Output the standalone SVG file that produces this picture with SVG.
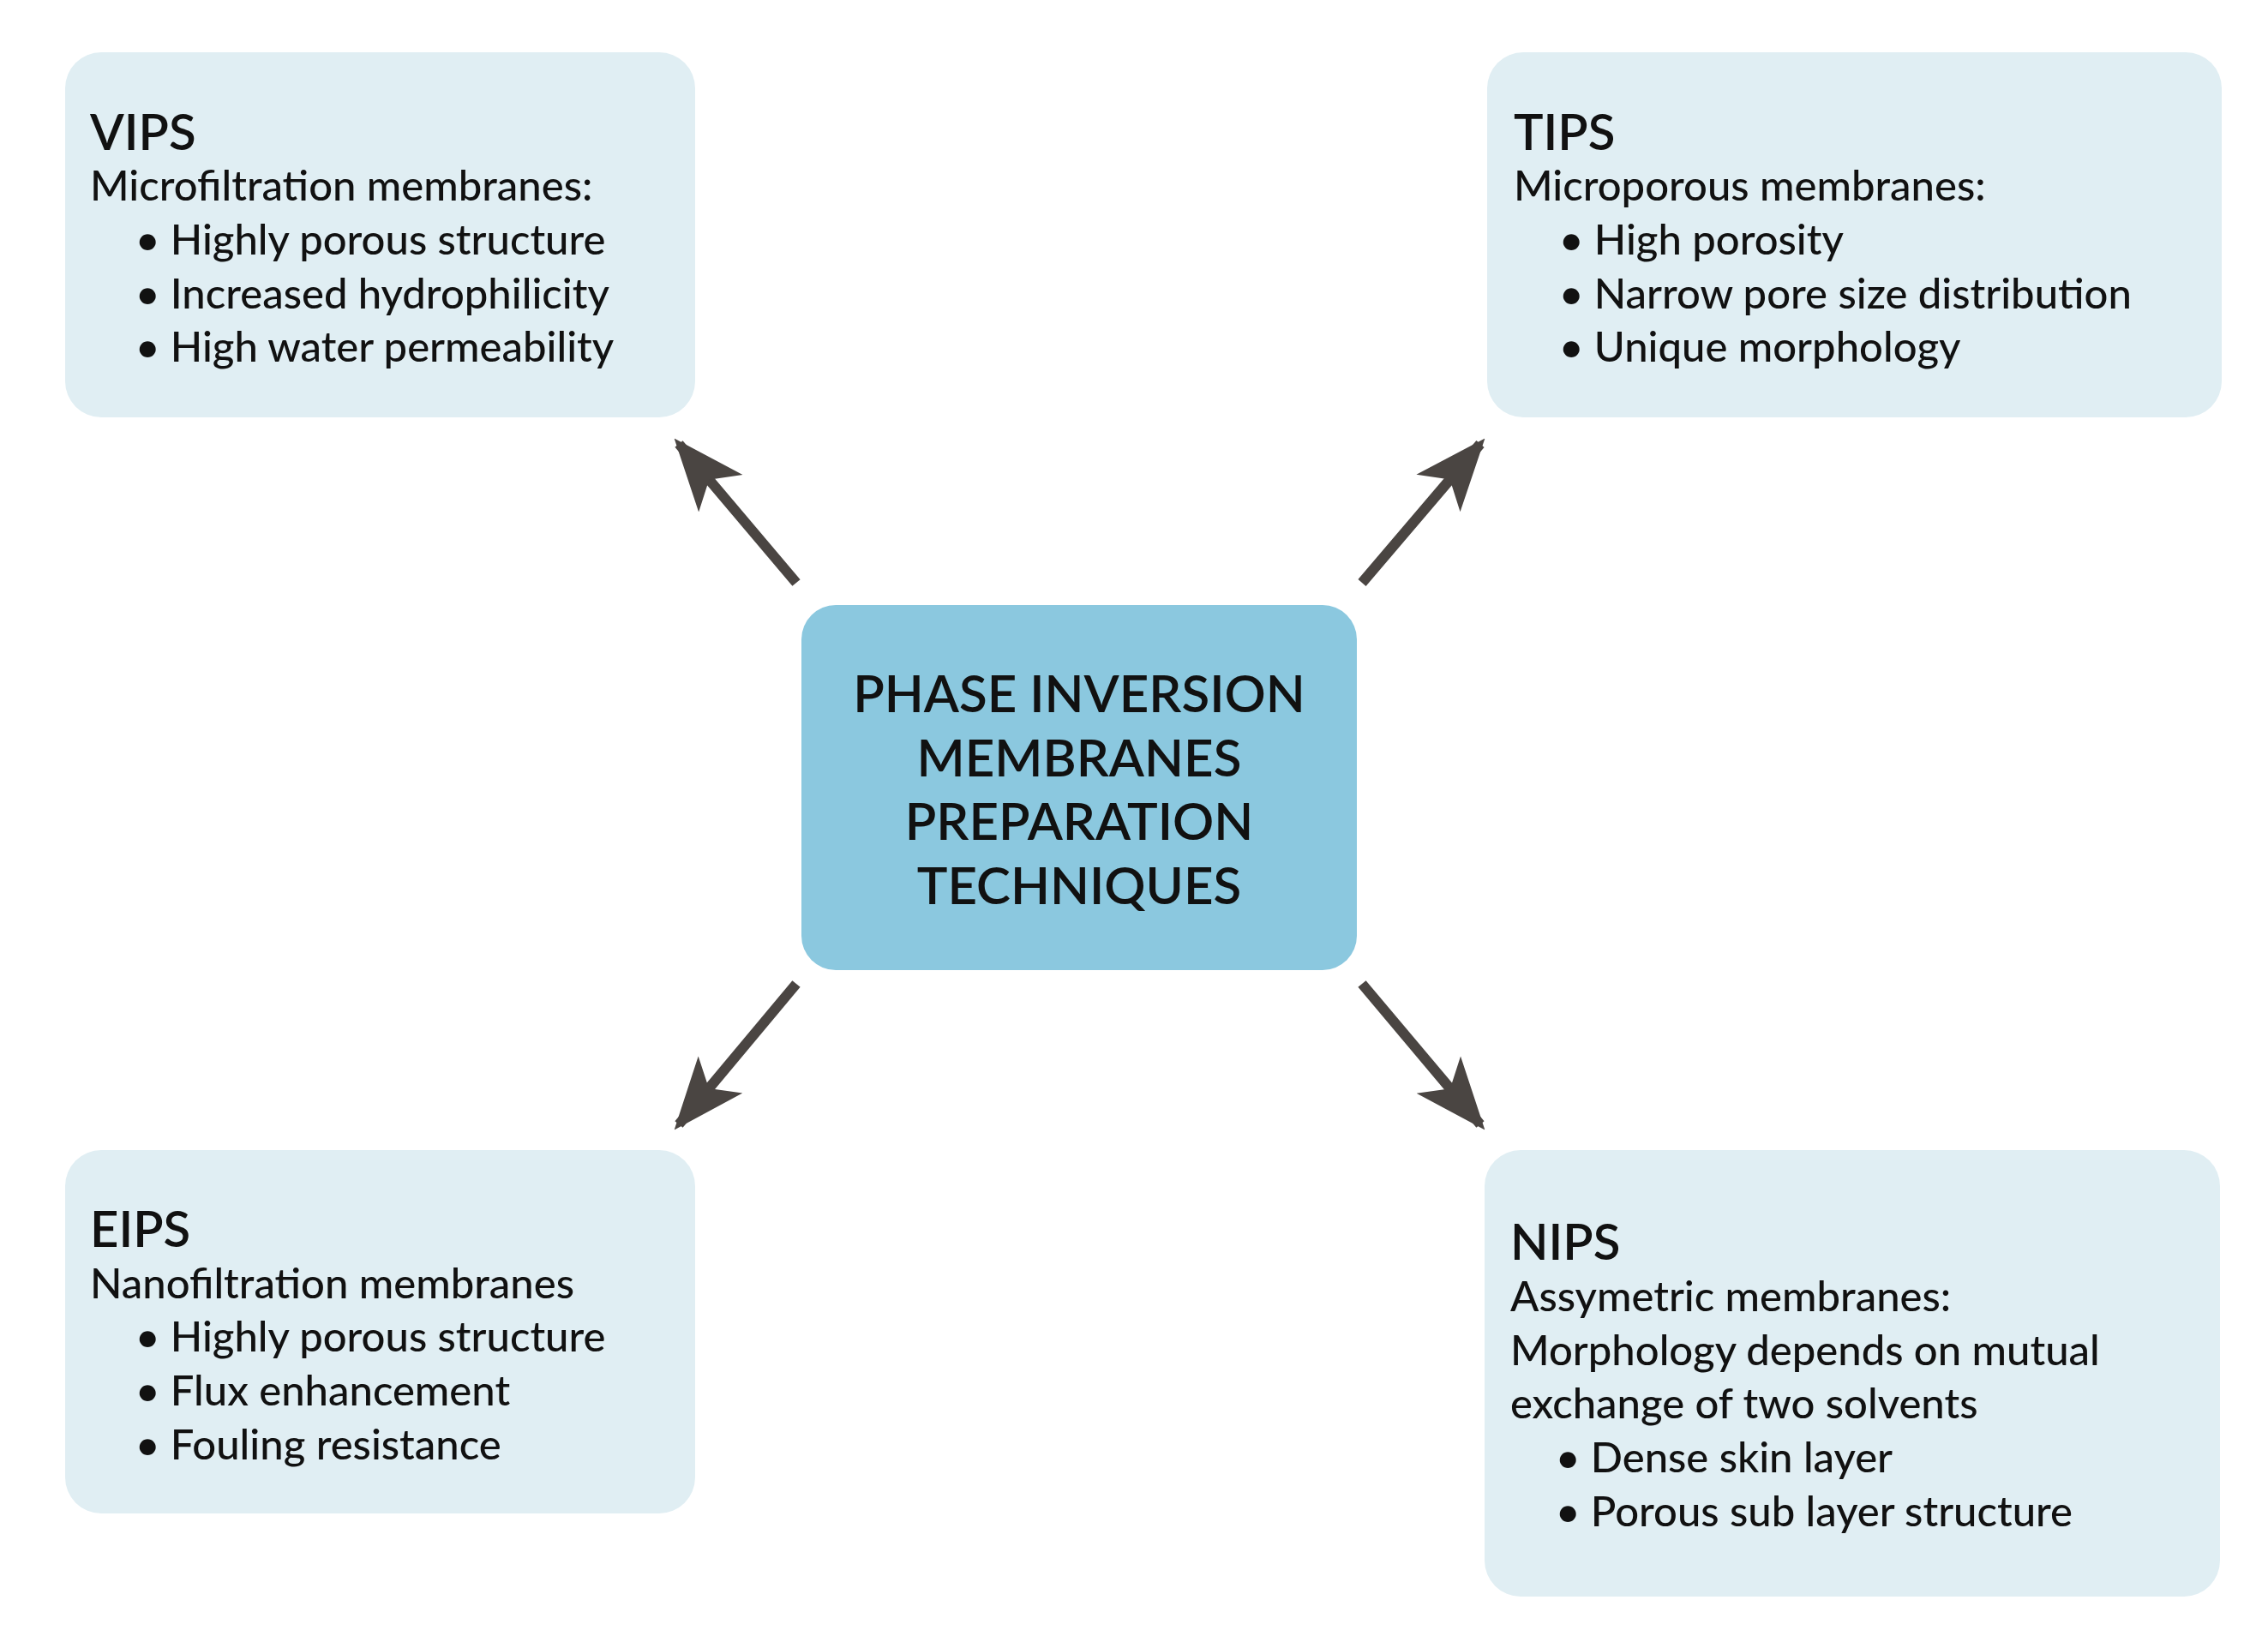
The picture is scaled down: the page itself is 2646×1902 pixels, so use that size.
<svg xmlns="http://www.w3.org/2000/svg" width="2646" height="1902" viewBox="0 0 2646 1902">
<style>
.box{fill:#e0eef3}
.ctr{fill:#8bc8df}
text{font-family:Lato,"Open Sans","Liberation Sans",sans-serif;fill:#111}
.t{font-size:58px;font-weight:600}
.b{font-size:49px;font-weight:500}
.c{font-size:60px;font-weight:600;text-anchor:middle}
.ar{stroke:#4a4542;stroke-width:12;fill:none}
</style>
<defs>
<marker id="ah" viewBox="0 0 20 20" refX="18" refY="10" markerWidth="7" markerHeight="7" markerUnits="strokeWidth" orient="auto">
<path d="M0,2 L20,10 L0,18 L5,10 Z" fill="#4a4542"/>
</marker>
</defs>
<rect width="2646" height="1902" fill="#fff"/>
<g id="connectors">
<line class="ar" x1="929" y1="680" x2="792" y2="518" marker-end="url(#ah)"/>
<line class="ar" x1="1589" y1="680" x2="1727" y2="518" marker-end="url(#ah)"/>
<line class="ar" x1="929" y1="1148" x2="792" y2="1312" marker-end="url(#ah)"/>
<line class="ar" x1="1589" y1="1148" x2="1727" y2="1312" marker-end="url(#ah)"/>
</g>
<g id="center">
<rect class="ctr" x="935" y="706" width="648" height="426" rx="40"/>
<text class="c" x="1259" y="831">PHASE INVERSION</text>
<text class="c" x="1259" y="906">MEMBRANES</text>
<text class="c" x="1259" y="980">PREPARATION</text>
<text class="c" x="1259" y="1055">TECHNIQUES</text>
</g>
<g id="vips">
<rect class="box" x="76" y="61" width="735" height="426" rx="42"/>
<text class="t" x="105" y="175">VIPS</text>
<text class="b" x="105" y="234">Microfiltration membranes:</text>
<text class="b" x="158" y="297">• Highly porous structure</text>
<text class="b" x="158" y="360">• Increased hydrophilicity</text>
<text class="b" x="158" y="422">• High water permeability</text>
</g>
<g id="tips">
<rect class="box" x="1735" y="61" width="857" height="426" rx="42"/>
<text class="t" x="1766" y="175">TIPS</text>
<text class="b" x="1766" y="234">Microporous membranes:</text>
<text class="b" x="1819" y="297">• High porosity</text>
<text class="b" x="1819" y="360">• Narrow pore size distribution</text>
<text class="b" x="1819" y="422">• Unique morphology</text>
</g>
<g id="eips">
<rect class="box" x="76" y="1342" width="735" height="424" rx="42"/>
<text class="t" x="105" y="1455">EIPS</text>
<text class="b" x="105" y="1515">Nanofiltration membranes</text>
<text class="b" x="158" y="1577">• Highly porous structure</text>
<text class="b" x="158" y="1640">• Flux enhancement</text>
<text class="b" x="158" y="1703">• Fouling resistance</text>
</g>
<g id="nips">
<rect class="box" x="1732" y="1342" width="858" height="521" rx="42"/>
<text class="t" x="1762" y="1470">NIPS</text>
<text class="b" x="1762" y="1530">Assymetric membranes:</text>
<text class="b" x="1762" y="1593">Morphology depends on mutual</text>
<text class="b" x="1762" y="1655">exchange of two solvents</text>
<text class="b" x="1815" y="1718">• Dense skin layer</text>
<text class="b" x="1815" y="1781">• Porous sub layer structure</text>
</g>
</svg>
